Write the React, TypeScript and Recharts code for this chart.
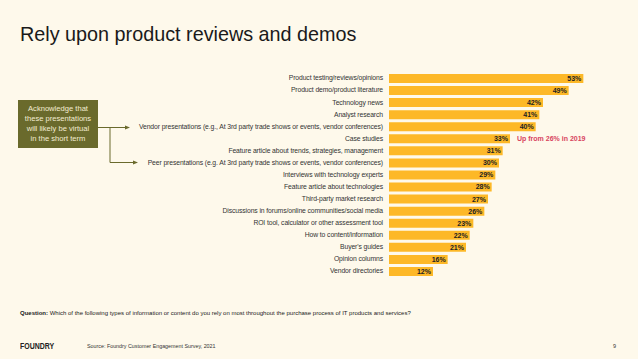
import React from 'react';
import { BarChart, Bar, XAxis, YAxis, LabelList } from 'recharts';

const categories = [
  'Product testing/reviews/opinions',
  'Product demo/product literature',
  'Technology news',
  'Analyst research',
  'Vendor presentations (e.g., At 3rd party trade shows or events, vendor conferences)',
  'Case studies',
  'Feature article about trends, strategies, management',
  'Peer presentations (e.g. At 3rd party trade shows or events, vendor conferences)',
  'Interviews with technology experts',
  'Feature article about technologies',
  'Third-party market research',
  'Discussions in forums/online communities/social media',
  'ROI tool, calculator or other assessment tool',
  'How to content/information',
  "Buyer's guides",
  'Opinion columns',
  'Vendor directories',
];

const shares = [53, 49, 42, 41, 40, 33, 31, 30, 29, 28, 27, 26, 23, 22, 21, 16, 12];

const noteCategory = 'Case studies';
const noteText = 'Up from 26% in 2019';

const calloutLines = ['Acknowledge that', 'these presentations', 'will likely be virtual', 'in the short term'];

const data = categories.map((name, i) => ({ name, value: shares[i] }));

const FONT = '"Liberation Sans", Arial, sans-serif';
const BAR = '#FDB827';
const OLIVE = '#6A6A2C';

const CategoryTick = (props: any) => {
  const { x, y, payload } = props;
  return (
    <text x={x} y={y} dy="0.35em" textAnchor="end" fontSize={6.8} letterSpacing={-0.1} fill="#333" fontFamily={FONT}>
      {payload.value}
    </text>
  );
};

const ValueLabel = (props: any) => {
  const { x, y, width, height, value, index } = props;
  const endX = x + width;
  const cy = y + height / 2;
  return (
    <g>
      <text x={endX - 2} y={cy} dy="0.35em" textAnchor="end" fontSize={7} fontWeight="bold" fill="#222" fontFamily={FONT}>
        {value}%
      </text>
      {data[index] && data[index].name === noteCategory && (
        <text x={endX + 7} y={cy} dy="0.35em" fontSize={7} fontWeight="bold" fill="#D8445E" fontFamily={FONT}>
          {noteText}
        </text>
      )}
    </g>
  );
};

const App: React.FC = () => {
  return (
    <div style={{ position: 'fixed', left: 0, top: 0, width: 638, height: 359, background: '#FEF9EB', fontFamily: FONT, overflow: 'hidden' }}>
      <div style={{ position: 'absolute', left: 20, top: 23, fontSize: 19.8, color: '#1a1a1a', whiteSpace: 'nowrap' }}>
        Rely upon product reviews and demos
      </div>

      <div style={{ position: 'absolute', left: 0, top: 0 }}>
        <BarChart width={638} height={359} data={data} layout="vertical" margin={{ top: 72, right: 29, bottom: 82, left: 0 }} barCategoryGap={1.5}>
          <XAxis type="number" domain={[0, 60]} hide />
          <YAxis
            type="category"
            dataKey="name"
            width={389}
            axisLine={false}
            tickLine={false}
            tickSize={4}
            interval={0}
            tick={<CategoryTick />}
          />
          <Bar dataKey="value" fill={BAR} barSize={9} isAnimationActive={false}>
            <LabelList dataKey="value" content={<ValueLabel />} />
          </Bar>
        </BarChart>
      </div>

      {/* callout box and arrows */}
      <div style={{ position: 'absolute', left: 18, top: 100, width: 80, height: 48, background: OLIVE, color: '#F3EDD3', fontSize: 7.6, lineHeight: '10px', textAlign: 'center', display: 'flex', flexDirection: 'column', alignItems: 'center', justifyContent: 'center', whiteSpace: 'nowrap' }}>
        {calloutLines.map(l => <div key={l}>{l}</div>)}
      </div>
      <svg width={638} height={359} style={{ position: 'absolute', left: 0, top: 0, pointerEvents: 'none' }}>
        <line x1={98} y1={127.5} x2={126} y2={127.5} stroke={OLIVE} strokeWidth={1} />
        <polygon points="130,127.5 125,125.5 125,129.5" fill={OLIVE} />
        <line x1={110} y1={127.5} x2={110} y2={162.5} stroke={OLIVE} strokeWidth={1} />
        <line x1={110} y1={162.5} x2={134} y2={162.5} stroke={OLIVE} strokeWidth={1} />
        <polygon points="138,162.5 133,160.5 133,164.5" fill={OLIVE} />
      </svg>

      <div style={{ position: 'absolute', left: 20, top: 310, fontSize: 6, color: '#222', whiteSpace: 'nowrap' }}>
        <b>Question:</b> Which of the following types of information or content do you rely on most throughout the purchase process of IT products and services?
      </div>
      <div style={{ position: 'absolute', left: 20, top: 341, fontSize: 8.5, fontWeight: 'bold', color: '#222', transform: 'scaleX(0.82)', transformOrigin: 'left center' }}>
        FOUNDRY
      </div>
      <div style={{ position: 'absolute', left: 87, top: 343, fontSize: 5.35, color: '#333', whiteSpace: 'nowrap' }}>
        Source: Foundry Customer Engagement Survey, 2021
      </div>
      <div style={{ position: 'absolute', left: 613, top: 343, fontSize: 5.5, color: '#333' }}>9</div>
    </div>
  );
};

export default App;
